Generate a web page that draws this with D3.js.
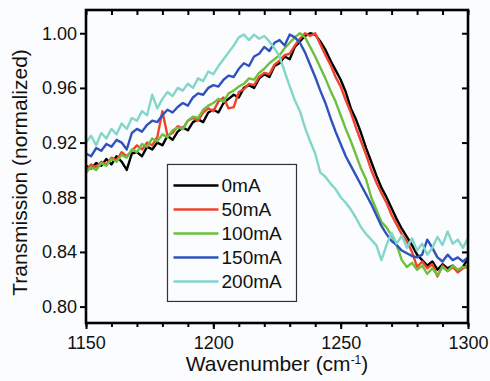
<!DOCTYPE html>
<html>
<head>
<meta charset="utf-8">
<script src="https://cdn.jsdelivr.net/npm/d3@7"></script>
<style>
  html, body { margin: 0; padding: 0; background: #fbfcfe; }
  svg { display: block; font-family: Arial, "Liberation Sans", sans-serif; }
</style>
</head>
<body>
<div id="chart"></div>
<script>
"use strict";

// wavenumber grid (cm-1), every 2 cm-1
var wavenumbers = d3.range(1150, 1301, 2);

var seriesNames = ["0mA", "50mA", "100mA", "150mA", "200mA"];
var seriesColors = ["#000000", "#f0432c", "#6cc03c", "#2f52be", "#82d6ca"];

var t0mA = [0.903,0.901,0.905,0.903,0.908,0.904,0.910,0.906,0.900,0.912,
  0.913,0.910,0.917,0.915,0.920,0.918,0.925,0.922,0.928,0.931,
  0.929,0.935,0.937,0.935,0.942,0.944,0.942,0.949,0.952,0.955,
  0.953,0.960,0.962,0.960,0.967,0.970,0.968,0.976,0.978,0.983,
  0.981,0.990,0.994,0.998,1.000,0.999,0.994,0.988,0.980,0.973,
  0.966,0.957,0.945,0.937,0.927,0.916,0.906,0.896,0.887,0.880,
  0.872,0.864,0.857,0.851,0.845,0.838,0.834,0.830,0.833,0.827,
  0.831,0.828,0.830,0.826,0.829,0.835];

var t50mA = [0.900,0.904,0.902,0.906,0.904,0.909,0.907,0.913,0.910,0.914,
  0.918,0.915,0.920,0.918,0.924,0.943,0.925,0.927,0.932,0.930,
  0.936,0.938,0.936,0.942,0.945,0.943,0.950,0.953,0.945,0.946,
  0.957,0.959,0.963,0.962,0.968,0.971,0.970,0.977,0.980,0.984,
  0.985,0.991,0.996,1.000,0.998,1.000,0.992,0.984,0.977,0.968,
  0.961,0.951,0.942,0.931,0.921,0.911,0.900,0.891,0.883,0.876,
  0.867,0.860,0.853,0.848,0.840,0.829,0.833,0.828,0.831,0.822,
  0.830,0.826,0.829,0.825,0.828,0.830];

var t100mA = [0.898,0.902,0.900,0.905,0.903,0.908,0.906,0.911,0.909,0.915,
  0.913,0.919,0.917,0.923,0.921,0.926,0.924,0.929,0.931,0.930,
  0.936,0.939,0.938,0.944,0.947,0.949,0.952,0.950,0.956,0.958,
  0.961,0.963,0.967,0.966,0.971,0.974,0.978,0.981,0.984,0.989,
  0.993,0.997,1.000,0.997,0.990,0.983,0.975,0.967,0.958,0.950,
  0.940,0.930,0.921,0.911,0.901,0.893,0.880,0.871,0.862,0.858,
  0.852,0.845,0.834,0.829,0.832,0.827,0.830,0.824,0.828,0.823,
  0.829,0.826,0.830,0.827,0.829,0.828];

var t150mA = [0.912,0.910,0.916,0.914,0.919,0.917,0.922,0.920,0.915,0.927,
  0.930,0.928,0.933,0.936,0.935,0.940,0.944,0.942,0.946,0.949,
  0.947,0.953,0.956,0.955,0.960,0.962,0.961,0.966,0.969,0.968,
  0.974,0.978,0.976,0.983,0.985,0.990,0.987,0.993,0.995,0.991,
  0.999,0.997,0.993,0.986,0.977,0.968,0.958,0.949,0.938,0.928,
  0.919,0.910,0.903,0.896,0.889,0.882,0.875,0.867,0.859,0.853,
  0.848,0.845,0.841,0.839,0.837,0.836,0.838,0.849,0.843,0.836,
  0.833,0.838,0.834,0.836,0.833,0.836];

var t200mA = [0.920,0.925,0.918,0.927,0.923,0.930,0.926,0.934,0.930,0.938,
  0.936,0.943,0.940,0.955,0.945,0.952,0.957,0.954,0.960,0.958,
  0.963,0.960,0.967,0.965,0.972,0.970,0.976,0.981,0.986,0.991,
  0.997,0.999,0.995,0.999,0.996,0.998,0.994,0.989,0.983,0.972,
  0.961,0.951,0.943,0.931,0.921,0.912,0.898,0.895,0.890,0.886,
  0.880,0.876,0.871,0.865,0.858,0.853,0.849,0.845,0.834,0.845,
  0.854,0.846,0.852,0.843,0.850,0.841,0.846,0.838,0.843,0.851,
  0.845,0.855,0.846,0.849,0.843,0.850];

var seriesValues = [t0mA, t50mA, t100mA, t150mA, t200mA];

var xTicks = [1150, 1200, 1250, 1300];
var xMinorTicks = d3.range(1150, 1301, 10);
var yTicks = [0.80, 0.84, 0.88, 0.92, 0.96, 1.00];

var margin = { top: 10, right: 22, bottom: 58, left: 86 },
    width = 490 - margin.left - margin.right,
    height = 381 - margin.top - margin.bottom;

var svg = d3.select("#chart")
            .append("svg")
            .attr("width", 490)
            .attr("height", 381)
            .append("g")
            .attr("transform", "translate(" + margin.left + "," + margin.top + ")");

var xScale = d3.scaleLinear()
               .domain([1150, 1300])
               .range([0, width]);

var yScale = d3.scaleLinear()
               .domain([0.788, 1.017])
               .range([height, 0]);

// curves
var line = d3.line()
             .x(function (d) { return xScale(d[0]); })
             .y(function (d) { return yScale(d[1]); });

seriesValues.forEach(function (vals, i) {
  var pts = wavenumbers.map(function (w, j) { return [w, vals[j]]; });
  svg.append("path")
     .datum(pts)
     .attr("fill", "none")
     .attr("stroke", seriesColors[i])
     .attr("stroke-width", 2.4)
     .attr("stroke-linejoin", "round")
     .attr("d", line);
});

// axes: bottom (outward, minor every 10), top (inward), left (outward), right (inward)
var bottomMinor = d3.axisBottom(xScale).tickValues(xMinorTicks).tickSize(4).tickFormat("");
var bottomMajor = d3.axisBottom(xScale).tickValues(xTicks).tickSize(6).tickPadding(7)
                    .tickFormat(d3.format("d"));
var topMinor = d3.axisTop(xScale).tickValues(xMinorTicks).tickSize(-5).tickFormat("");
var leftAxis = d3.axisLeft(yScale).tickValues(yTicks).tickSize(6).tickPadding(3)
                 .tickFormat(d3.format(".2f"));
var rightAxis = d3.axisRight(yScale).tickValues(yTicks).tickSize(-6).tickFormat("");

svg.append("g").attr("class", "axis").attr("transform", "translate(0," + height + ")").call(bottomMinor);
svg.append("g").attr("class", "axis").attr("transform", "translate(0," + height + ")").call(bottomMajor);
svg.append("g").attr("class", "axis").call(topMinor);
svg.append("g").attr("class", "axis").call(leftAxis);
svg.append("g").attr("class", "axis").attr("transform", "translate(" + width + ",0)").call(rightAxis);

svg.selectAll(".axis .domain").remove();
svg.selectAll(".axis line").attr("stroke", "#000").attr("stroke-width", 2);
svg.selectAll(".axis text")
   .attr("fill", "#111")
   .style("font-size", "18px")
   .style("font-family", "Arial, 'Liberation Sans', sans-serif");

// frame
svg.append("rect")
   .attr("x", 0)
   .attr("y", 0)
   .attr("width", width)
   .attr("height", height)
   .attr("fill", "none")
   .attr("stroke", "#000")
   .attr("stroke-width", 2.6);

// axis titles
var xTitle = svg.append("text")
   .attr("x", width / 2)
   .attr("y", height + 48)
   .attr("text-anchor", "middle")
   .attr("fill", "#111")
   .style("font-size", "21px");
xTitle.append("tspan").text("Wavenumber (cm");
xTitle.append("tspan").attr("dy", -7).style("font-size", "12px").text("-1");
xTitle.append("tspan").attr("dy", 7).text(")");

svg.append("text")
   .attr("transform", "translate(" + (27 - margin.left) + "," + (height / 2 + 6) + ") rotate(-90)")
   .attr("text-anchor", "middle")
   .attr("fill", "#111")
   .style("font-size", "21px")
   .text("Transmission (normalized)");

// legend
var legend = svg.append("g")
   .attr("transform", "translate(" + xScale(1182) + "," + yScale(0.904) + ")");

legend.append("rect")
   .attr("x", 0)
   .attr("y", 0)
   .attr("width", 129)
   .attr("height", 137)
   .attr("fill", "#fbfcfe")
   .attr("stroke", "#333")
   .attr("stroke-width", 1.2);

var legendItems = legend.selectAll("g.item")
   .data(seriesNames)
   .enter()
   .append("g")
   .attr("class", "item")
   .attr("transform", function (d, i) { return "translate(0," + (21 + i * 24) + ")"; });

legendItems.append("line")
   .attr("x1", 6)
   .attr("x2", 51)
   .attr("stroke", function (d, i) { return seriesColors[i]; })
   .attr("stroke-width", 2.6);

legendItems.append("text")
   .attr("x", 54)
   .attr("y", 7)
   .attr("fill", "#111")
   .style("font-size", "19px")
   .text(function (d) { return d; });
</script>
</body>
</html>
